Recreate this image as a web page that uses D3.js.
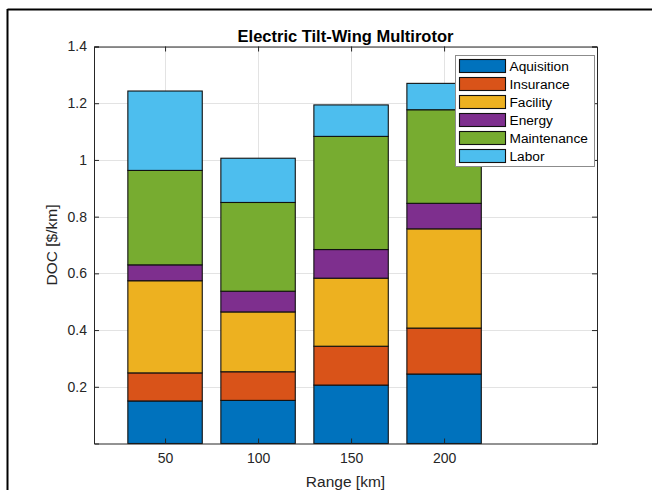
<!DOCTYPE html>
<html>
<head>
<meta charset="utf-8">
<script src="https://cdn.jsdelivr.net/npm/d3@7"></script>
<style>
html,body{margin:0;padding:0;background:#fff;}
svg{display:block;font-family:"Liberation Sans",Arial,Helvetica,sans-serif;}
</style>
</head>
<body>
<svg id="chart" width="652" height="490"></svg>
<script>
const ranges = [50, 100, 150, 200];
const seriesNames = ["Aquisition", "Insurance", "Facility", "Energy", "Maintenance", "Labor"];
const aquisition  = [0.150, 0.152, 0.206, 0.245];
const insurance   = [0.099, 0.101, 0.137, 0.162];
const facility    = [0.325, 0.211, 0.240, 0.350];
const energy      = [0.056, 0.073, 0.101, 0.090];
const maintenance = [0.333, 0.313, 0.399, 0.330];
const labor       = [0.280, 0.156, 0.111, 0.093];
const colors = ["#0072BD", "#D95319", "#EDB120", "#7E2F8E", "#77AC30", "#4DBEEE"];
const yTicks = [0.2, 0.4, 0.6, 0.8, 1, 1.2, 1.4];
const xTicks = [50, 100, 150, 200];
const titleText = "Electric Tilt-Wing Multirotor";
const xLabel = "Range [km]";
const yLabel = "DOC [$/km]";

const seriesValues = [aquisition, insurance, facility, energy, maintenance, labor];
const table = ranges.map((r, i) => {
  const row = {range: r};
  seriesNames.forEach((n, k) => row[n] = seriesValues[k][i]);
  return row;
});
const stacked = d3.stack().keys(seriesNames)(table);

const svg = d3.select("#chart");
const L = 94, R = 597, T = 46.5, B = 443.5;
const x = d3.scaleLinear().domain([11.8, 282.2]).range([L, R]);
const y = d3.scaleLinear().domain([0, 1.4]).range([B, T]);
const barW = (x(100) - x(50)) * 0.8;
const axisCol = "#262626";

// figure frame lines
svg.append("line").attr("x1", 7.5).attr("x2", 652).attr("y1", 9.5).attr("y2", 9.5).attr("stroke", "#000").attr("stroke-width", 2);
svg.append("line").attr("x1", 7.5).attr("x2", 7.5).attr("y1", 9).attr("y2", 490).attr("stroke", "#000").attr("stroke-width", 2);

// background
svg.append("rect").attr("x", L).attr("y", T).attr("width", R - L).attr("height", B - T).attr("fill", "#fff");

// grid
const grid = svg.append("g");
grid.selectAll(".gy").data(yTicks).join("line")
  .attr("x1", L).attr("x2", R)
  .attr("y1", d => Math.round(y(d)) + 0.5).attr("y2", d => Math.round(y(d)) + 0.5)
  .attr("stroke", "#e3e3e3").attr("stroke-width", 1);
grid.selectAll(".gx").data(xTicks).join("line")
  .attr("y1", T).attr("y2", B)
  .attr("x1", d => Math.round(x(d)) + 0.5).attr("x2", d => Math.round(x(d)) + 0.5)
  .attr("stroke", "#e3e3e3").attr("stroke-width", 1);

// bars
const layers = svg.append("g").selectAll("g").data(stacked).join("g")
  .attr("fill", (d, i) => colors[i]);
layers.selectAll("rect").data(d => d).join("rect")
  .attr("x", d => x(d.data.range) - barW / 2)
  .attr("width", barW)
  .attr("y", d => y(d[1]))
  .attr("height", d => y(d[0]) - y(d[1]))
  .attr("stroke", "#111").attr("stroke-width", 1.1);

// axes
const tickLen = 5;
const axB = svg.append("g").attr("transform", `translate(0,${B})`)
  .call(d3.axisBottom(x).tickValues(xTicks).tickSize(-tickLen).tickPadding(12).tickFormat(d3.format("d")));
const axT = svg.append("g").attr("transform", `translate(0,${T})`)
  .call(d3.axisTop(x).tickValues(xTicks).tickSize(-tickLen).tickFormat(""));
const axL = svg.append("g").attr("transform", `translate(${L},0)`)
  .call(d3.axisLeft(y).tickValues(yTicks).tickSize(-tickLen).tickPadding(12).tickFormat(d => d3.format("")(+d.toFixed(1))));
const axR = svg.append("g").attr("transform", `translate(${R},0)`)
  .call(d3.axisRight(y).tickValues(yTicks).tickSize(-tickLen).tickFormat(""));
[axB, axT, axL, axR].forEach(a => {
  a.select(".domain").attr("stroke", axisCol).attr("stroke-width", 1);
  a.selectAll(".tick line").attr("stroke", axisCol);
  a.selectAll("text").attr("fill", axisCol).style("font-size", "14px").style("font-family", "Liberation Sans, Arial, sans-serif");
});
axB.selectAll("text").attr("dy", "0.71em").attr("y", 9.5);
axL.selectAll("text").attr("x", -7);

// title & labels
svg.append("text").attr("x", (L + R) / 2).attr("y", 41.5).attr("text-anchor", "middle")
  .attr("font-weight", "bold").attr("font-size", "16.5px").attr("fill", "#000").text(titleText);
svg.append("text").attr("x", (L + R) / 2).attr("y", 486.5).attr("text-anchor", "middle")
  .attr("font-size", "15.5px").attr("fill", axisCol).text(xLabel);
svg.append("text").attr("transform", `translate(57,${(T + B) / 2}) rotate(-90)`).attr("text-anchor", "middle")
  .attr("font-size", "15.5px").attr("fill", axisCol).text(yLabel);

// legend
const lg = svg.append("g");
lg.append("rect").attr("x", 455.5).attr("y", 55.5).attr("width", 139).attr("height", 111)
  .attr("fill", "#fff").attr("stroke", "#8c8c8c").attr("stroke-width", 1);
const items = lg.selectAll(".item").data(seriesNames).join("g")
  .attr("transform", (d, i) => `translate(0,${66 + i * 18})`);
items.append("rect").attr("x", 459.5).attr("y", -6.5).attr("width", 46).attr("height", 13)
  .attr("fill", (d, i) => colors[i]).attr("stroke", "#111").attr("stroke-width", 1.1);
items.append("text").attr("x", 509.5).attr("y", 0).attr("dy", "0.36em")
  .attr("font-size", "13.7px").attr("fill", "#000").text(d => d);
</script>
</body>
</html>
